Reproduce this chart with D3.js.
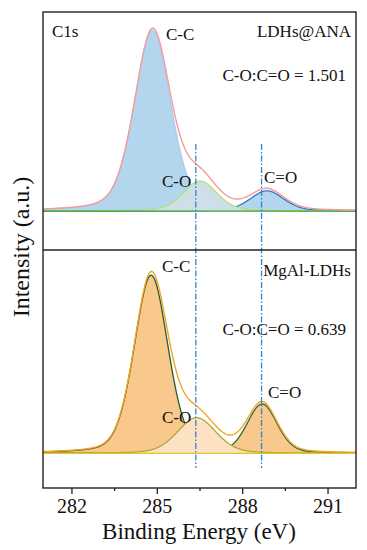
<!DOCTYPE html>
<html>
<head>
<meta charset="utf-8">
<script src="https://cdn.jsdelivr.net/npm/d3@7"></script>
<style>
  body { margin: 0; background: #fff; }
</style>
</head>
<body>
<div id="chart"></div>
<script>

// DATA (peak fit parameters)

var energyTicks = [282, 285, 288, 291];
var minorTicks = [283.5, 286.5, 289.5];
var componentNames = ['C-C', 'C-O', 'C=O'];
var sampleNames = ['LDHs@ANA', 'MgAl-LDHs'];
var ratioLabels = ['C-O:C=O = 1.501', 'C-O:C=O = 0.639'];

var anaCenters = [284.85, 286.52, 288.87];
var anaHeights = [1.0, 0.166, 0.112];
var anaFwhm = [1.5, 1.4, 1.4];

var mgalCenters = [284.80, 286.40, 288.70];
var mgalHeights = [1.0, 0.20, 0.277];
var mgalFwhm = [1.4, 1.6, 1.25];

var lorentzMix = [0.3, 0.25];
var markerEnergies = [286.37, 288.68];

var FONT = 'Liberation Serif';
var width = 367, height = 550;
var margin = { left: 43, right: 11, top: 12, bottom: 62 };
var plotBottom = height - margin.bottom;
var divider = 250;

var svg = d3.select('#chart')
  .append('svg')
    .attr('width', width)
    .attr('height', height);

var x = d3.scaleLinear()
  .domain([281, 292])
  .range([margin.left, width - margin.right]);

var grid = d3.range(281, 292.001, 0.02);

function voigt(e, c, h, w, eta) {
  var t = (e - c) / (w / 2);
  return h * ((1 - eta) * Math.exp(-Math.LN2 * t * t) + eta / (1 + t * t));
}

function label(sel, tx, ty, size, str, anchor) {
  return sel.append('text')
    .attr('x', tx)
    .attr('y', ty)
    .attr('font-family', FONT)
    .attr('font-size', size)
    .attr('text-anchor', anchor || 'start')
    .attr('fill', '#111')
    .text(str);
}

var panels = [
  {
    name: sampleNames[0], ratio: ratioLabels[0],
    centers: anaCenters, heights: anaHeights, fwhm: anaFwhm, eta: lorentzMix[0],
    y: d3.scaleLinear().domain([-0.215, 1.1]).range([divider, margin.top]),
    fills: ['#b3d5ee', '#cfdfe7', '#b3d5ee'],
    strokes: ['#a9cfea', '#b6e07c', '#2a7cc0'],
    envelope: '#f59a9a', baseline: '#3a9c3a',
    labelPos: [[166, 40], [162, 187], [264, 183]],
    nameY: 37, ratioY: 81
  },
  {
    name: sampleNames[1], ratio: ratioLabels[1],
    centers: mgalCenters, heights: mgalHeights, fwhm: mgalFwhm, eta: lorentzMix[1],
    y: d3.scaleLinear().domain([-0.195, 1.142]).range([plotBottom, divider]),
    fills: ['#f8c88c', '#fce2c2', '#f8c88c'],
    strokes: ['#245c30', '#a8ac34', '#2f6a34'],
    envelope: '#f0a524', baseline: '#e6c22a',
    labelPos: [[162, 272], [162, 423], [268, 398]],
    nameY: 276, ratioY: 335
  }
];

panels.forEach(function(p) {
  var comps = p.centers.map(function(c, i) {
    return grid.map(function(e) { return { e: e, v: voigt(e, c, p.heights[i], p.fwhm[i], p.eta) }; });
  });
  var env = grid.map(function(e, k) {
    return { e: e, v: d3.sum(comps, function(c) { return c[k].v; }) };
  });

  var area = d3.area()
    .x(function(d) { return x(d.e); })
    .y0(p.y(0))
    .y1(function(d) { return p.y(d.v); });
  var line = d3.line()
    .x(function(d) { return x(d.e); })
    .y(function(d) { return p.y(d.v); });

  var g = svg.append('g').attr('class', 'panel');

  // components: C-C, C=O, then C-O on top
  [0, 2, 1].forEach(function(i) {
    g.append('path')
      .datum(comps[i])
      .attr('d', area)
      .attr('fill', p.fills[i]);
    g.append('path')
      .datum(comps[i])
      .attr('d', line)
      .attr('fill', 'none')
      .attr('stroke', p.strokes[i])
      .attr('stroke-width', 1.3);
  });

  g.append('line')
    .attr('x1', x(281)).attr('x2', x(292))
    .attr('y1', p.y(0)).attr('y2', p.y(0))
    .attr('stroke', p.baseline)
    .attr('stroke-width', 1.3);

  g.append('path')
    .datum(env)
    .attr('d', line)
    .attr('fill', 'none')
    .attr('stroke', p.envelope)
    .attr('stroke-width', 1.4);

  // LABELS
  componentNames.forEach(function(n, i) {
    label(g, p.labelPos[i][0], p.labelPos[i][1], 17, n);
  });
  label(g, 351, p.nameY, 17, p.name, 'end');
  label(g, 346, p.ratioY, 17, p.ratio, 'end');
});

label(svg, 52, 37, 17, 'C1s');

// MARKER LINES

svg.selectAll('line.marker')
  .data(markerEnergies)
  .enter().append('line')
    .attr('class', 'marker')
    .attr('x1', function(d) { return x(d); })
    .attr('x2', function(d) { return x(d); })
    .attr('y1', 144)
    .attr('y2', 468)
    .attr('stroke', '#2a88d0')
    .attr('stroke-width', 1.3)
    .attr('stroke-dasharray', '6,2,1.5,2');

// FRAME + AXES

svg.append('rect')
  .attr('x', margin.left)
  .attr('y', margin.top)
  .attr('width', width - margin.left - margin.right)
  .attr('height', plotBottom - margin.top)
  .attr('fill', 'none')
  .attr('stroke', '#222')
  .attr('stroke-width', 1.4);

svg.append('line')
  .attr('x1', margin.left).attr('x2', width - margin.right)
  .attr('y1', divider).attr('y2', divider)
  .attr('stroke', '#222')
  .attr('stroke-width', 1.4);

var xAxis = svg.append('g')
  .attr('transform', 'translate(0,' + plotBottom + ')')
  .call(d3.axisBottom(x).tickValues(energyTicks).tickSize(6).tickPadding(5).tickFormat(d3.format('d')));
xAxis.select('.domain').remove();
xAxis.selectAll('line').attr('stroke', '#222').attr('stroke-width', 1.3);
xAxis.selectAll('text')
  .attr('font-family', FONT)
  .attr('font-size', 20)
  .attr('fill', '#111');

var xMinor = svg.append('g')
  .attr('transform', 'translate(0,' + plotBottom + ')')
  .call(d3.axisBottom(x).tickValues(minorTicks).tickSize(3).tickFormat(''));
xMinor.select('.domain').remove();
xMinor.selectAll('line').attr('stroke', '#222').attr('stroke-width', 1.3);

label(svg, 199, 539, 23, 'Binding Energy (eV)', 'middle');

label(svg, 0, 0, 24, 'Intensity (a.u.)', 'middle')
  .attr('transform', 'translate(29,247) rotate(-90)');

</script>
</body>
</html>
